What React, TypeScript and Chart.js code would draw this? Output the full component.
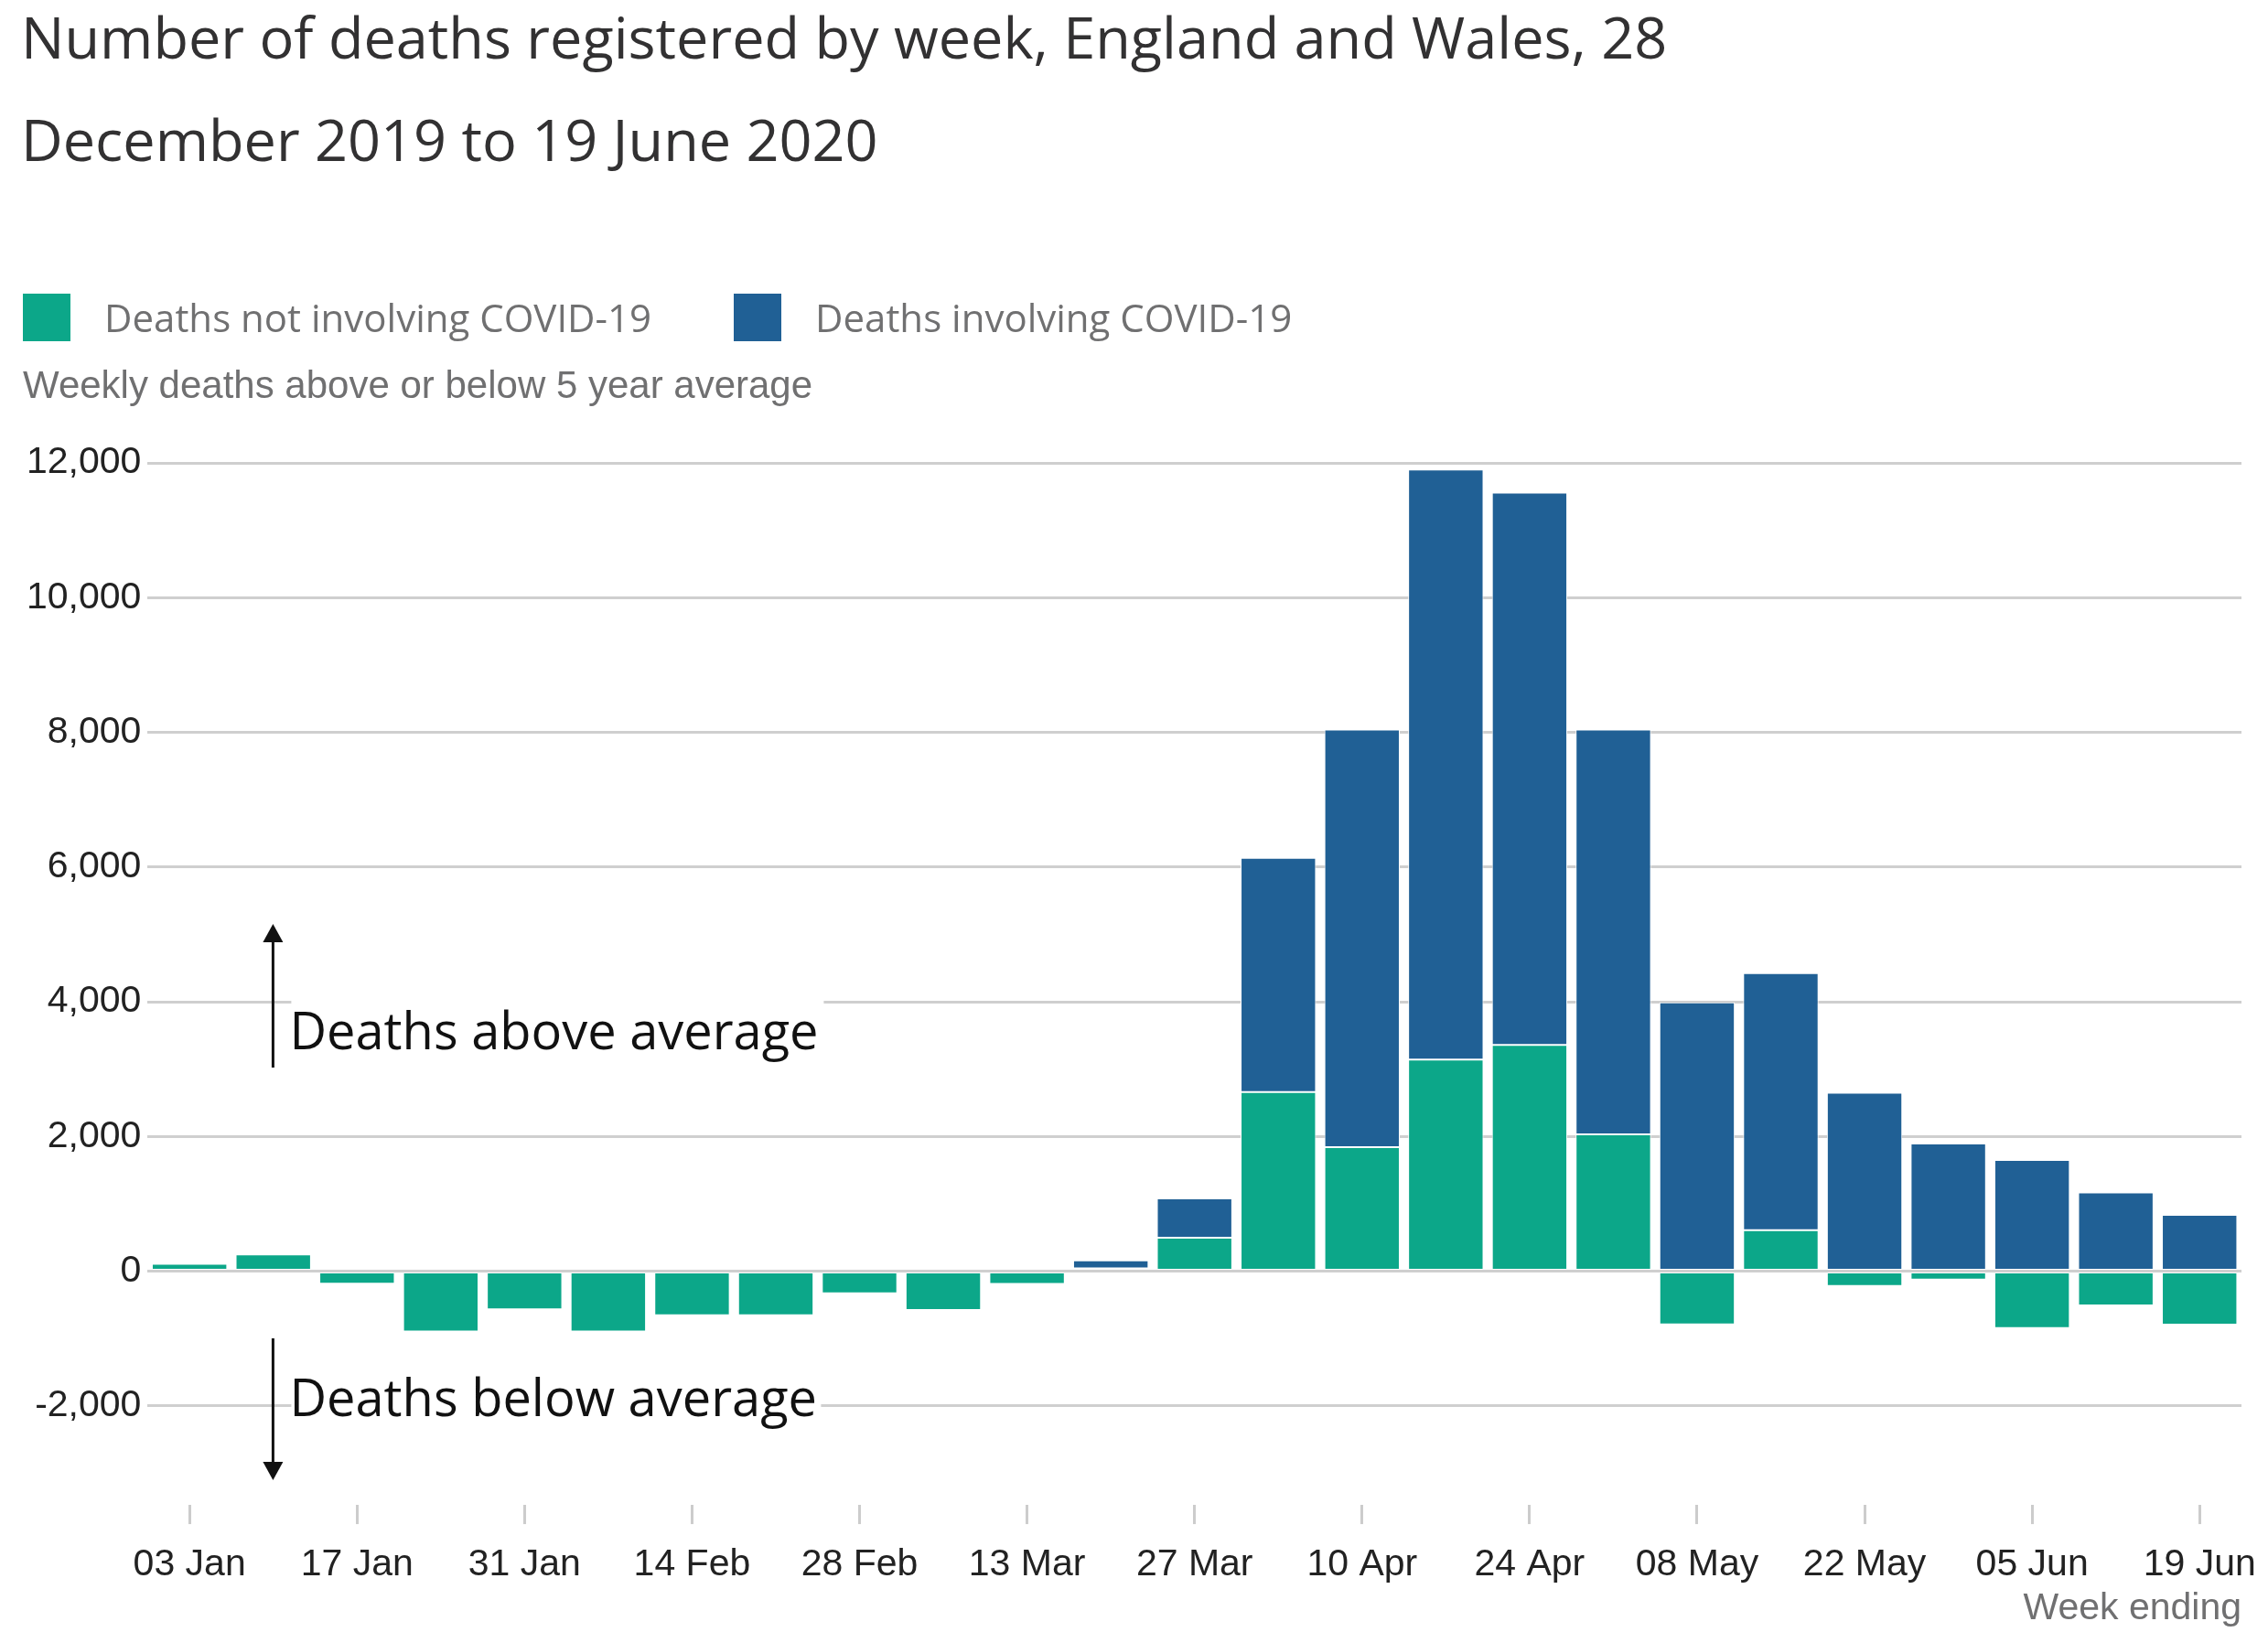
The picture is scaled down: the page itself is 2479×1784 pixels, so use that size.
import React, { useEffect, useRef } from "react";
import { Chart, registerables } from "chart.js";

Chart.register(...registerables);

// Week-ending dates, 3 January to 19 June 2020
const weekEnding = [
  "03 Jan", "10 Jan", "17 Jan", "24 Jan", "31 Jan",
  "07 Feb", "14 Feb", "21 Feb", "28 Feb",
  "06 Mar", "13 Mar", "20 Mar", "27 Mar",
  "03 Apr", "10 Apr", "17 Apr", "24 Apr",
  "01 May", "08 May", "15 May", "22 May", "29 May",
  "05 Jun", "12 Jun", "19 Jun",
];

// Deaths not involving COVID-19, above (+) or below (-) the 5 year average
const nonCovidExcess = [
  110, 250, -185, -895, -565,
  -895, -655, -655, -330,
  -575, -190, 40, 495,
  2660, 1840, 3140, 3360,
  2030, -790, 610, -220, -125,
  -845, -510, -795,
];

// Deaths involving COVID-19
const covidDeaths = [
  0, 0, 0, 0, 0,
  0, 0, 0, 0,
  0, 0, 120, 585,
  3475, 6200, 8760, 8200,
  6010, 3990, 3815, 2650, 1895,
  1650, 1170, 835,
];

const yTickValues = [-2000, 0, 2000, 4000, 6000, 8000, 10000, 12000];

const titleLines = [
  "Number of deaths registered by week, England and Wales, 28",
  "December 2019 to 19 June 2020",
];
const seriesNames = ["Deaths not involving COVID-19", "Deaths involving COVID-19"];
const subtitleText = "Weekly deaths above or below 5 year average";
const xAxisTitle = "Week ending";
const aboveText = "Deaths above average";
const belowText = "Deaths below average";

const GREEN = "#0ca789";
const BLUE = "#206095";
const GREY_TEXT = "#707071";
const DARK_TEXT = "#222222";
const GRID = "#cfcfcf";
const SANS = '"Liberation Sans", Arial, sans-serif';
const OPEN = '"Open Sans", "Noto Sans", sans-serif';

const W = 2479;
const H = 1784;

function drawArrow(ctx: CanvasRenderingContext2D, x: number, yTail: number, yTip: number) {
  const dir = yTip < yTail ? -1 : 1;
  const headLen = 20;
  const headHalf = 11;
  ctx.beginPath();
  ctx.moveTo(x, yTail);
  ctx.lineTo(x, yTip - dir * headLen);
  ctx.stroke();
  ctx.beginPath();
  ctx.moveTo(x, yTip);
  ctx.lineTo(x - headHalf, yTip - dir * headLen);
  ctx.lineTo(x + headHalf, yTip - dir * headLen);
  ctx.closePath();
  ctx.fill();
}

// Title, legend, subtitle and the above/below annotations
const decorations = {
  id: "decorations",
  afterDraw(chart: any) {
    const ctx: CanvasRenderingContext2D = chart.ctx;
    ctx.save();
    ctx.textAlign = "left";
    ctx.textBaseline = "alphabetic";

    // Title
    ctx.fillStyle = "#323132";
    ctx.font = `63px ${OPEN}`;
    ctx.fillText(titleLines[0], 23, 64);
    ctx.fillText(titleLines[1], 23, 176);

    // Legend
    const legendX = [25, 802];
    chart.data.datasets.forEach((ds: any, i: number) => {
      const x = legendX[i];
      ctx.fillStyle = ds.backgroundColor;
      ctx.fillRect(x, 321, 52, 52);
      ctx.fillStyle = GREY_TEXT;
      ctx.font = `42px ${OPEN}`;
      ctx.fillText(ds.label, x + 89, 363);
    });

    // Subtitle
    ctx.fillStyle = GREY_TEXT;
    ctx.font = `42px ${SANS}`;
    ctx.fillText(subtitleText, 25, 435);

    // Annotations
    const left = chart.chartArea.left;
    const ax = left + 137;
    const textX = left + 155;

    ctx.fillStyle = "#ffffff";
    ctx.fillRect(left + 157, 1088, 582, 78);
    ctx.fillRect(left + 157, 1498, 579, 70);

    ctx.fillStyle = "#111111";
    ctx.font = `56px ${OPEN}`;
    ctx.fillText(aboveText, textX, 1147);
    ctx.fillText(belowText, textX, 1548);

    ctx.strokeStyle = "#111111";
    ctx.fillStyle = "#111111";
    ctx.lineWidth = 3;
    drawArrow(ctx, ax, 1167, 1010);
    drawArrow(ctx, ax, 1463, 1618);

    ctx.restore();
  },
};

export default function App() {
  const canvasRef = useRef<HTMLCanvasElement | null>(null);

  useEffect(() => {
    document.body.style.margin = "0";
    document.body.style.overflow = "hidden";
    const canvas = canvasRef.current;
    if (!canvas) return;

    const chart = new Chart(canvas, {
      type: "bar",
      data: {
        labels: weekEnding,
        datasets: [
          {
            label: seriesNames[0],
            data: nonCovidExcess,
            backgroundColor: GREEN,
            borderColor: "#ffffff",
            borderWidth: 1,
            borderSkipped: false,
            barPercentage: 0.9,
            categoryPercentage: 1.0,
          },
          {
            label: seriesNames[1],
            data: covidDeaths,
            backgroundColor: BLUE,
            borderColor: "#ffffff",
            borderWidth: 1,
            borderSkipped: false,
            barPercentage: 0.9,
            categoryPercentage: 1.0,
          },
        ],
      },
      options: {
        responsive: false,
        devicePixelRatio: 1,
        animation: false,
        layout: { padding: { top: 506, left: 22, right: 29, bottom: 0 } },
        plugins: {
          legend: { display: false },
          title: { display: false },
          tooltip: { enabled: false },
        },
        scales: {
          x: {
            stacked: true,
            offset: true,
            border: { display: false },
            grid: {
              offset: false,
              drawOnChartArea: false,
              drawTicks: true,
              tickLength: 21,
              color: "#cccccc",
              lineWidth: 3,
            },
            ticks: {
              autoSkip: false,
              maxRotation: 0,
              minRotation: 0,
              padding: 5,
              color: DARK_TEXT,
              font: { family: SANS, size: 41, lineHeight: 1.9415 },
              callback: function (this: any, value: any, index: number) {
                return index % 2 === 0 ? this.getLabelForValue(value) : null;
              },
            },
            title: {
              display: true,
              text: xAxisTitle,
              align: "end",
              color: GREY_TEXT,
              font: { family: SANS, size: 41, lineHeight: 0.14 },
              padding: { top: 0, bottom: 22.6 },
            },
          },
          y: {
            stacked: true,
            min: -3470,
            max: 12000,
            border: { display: false },
            afterBuildTicks: (scale: any) => {
              scale.ticks = yTickValues.map((v) => ({ value: v }));
            },
            grid: {
              color: GRID,
              lineWidth: 3,
              drawTicks: false,
            },
            ticks: {
              padding: 7,
              color: DARK_TEXT,
              font: { family: SANS, size: 41 },
              callback: (value: any) => Number(value).toLocaleString("en-GB"),
            },
          },
        },
      },
      plugins: [decorations],
    });

    return () => chart.destroy();
  }, []);

  return (
    <div style={{ width: W, height: H, background: "#ffffff" }}>
      <canvas ref={canvasRef} width={W} height={H} style={{ display: "block", width: W, height: H }} />
    </div>
  );
}
